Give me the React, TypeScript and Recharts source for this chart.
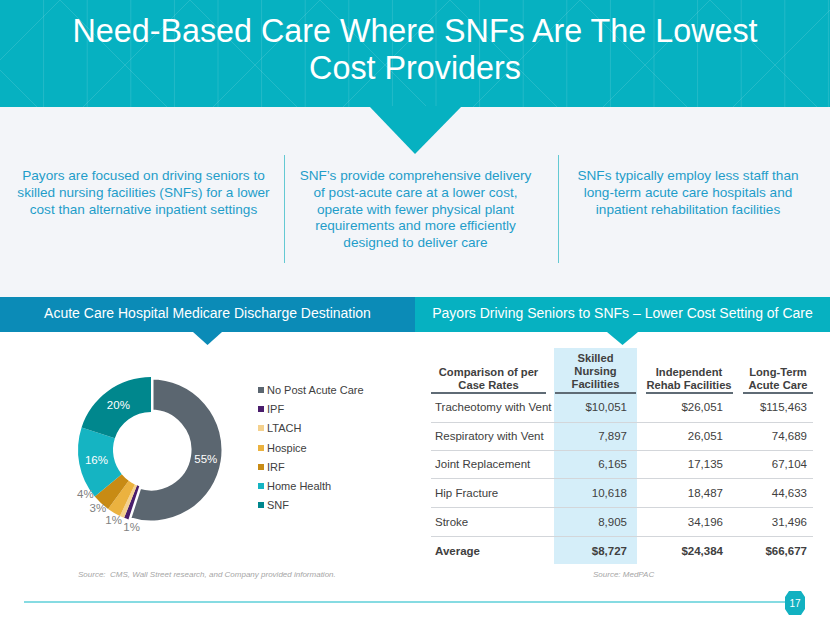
import React from 'react';
import { PieChart, Pie, Cell, Legend } from 'recharts';

// discharge destination share (%), clockwise from 12 o'clock
const destinations = ['No Post Acute Care', 'IPF', 'LTACH', 'Hospice', 'IRF', 'Home Health', 'SNF'];
const shares = [55, 1, 1, 3, 4, 16, 20];
const sliceColors = ['#5b6670', '#4a1d6c', '#f4d18e', '#ebb23f', '#c88b14', '#15b4c2', '#00878d'];

// case rate table
const caseTypes = ['Tracheotomy with Vent', 'Respiratory with Vent', 'Joint Replacement', 'Hip Fracture', 'Stroke', 'Average'];
const snfRates = ['$10,051', '7,897', '6,165', '10,618', '8,905', '$8,727'];
const rehabRates = ['$26,051', '26,051', '17,135', '18,487', '34,196', '$24,384'];
const ltacRates = ['$115,463', '74,689', '67,104', '44,633', '31,496', '$66,677'];

// blurb lines, as wrapped on the slide
const blurb1 = ['Payors are focused on driving seniors to', 'skilled nursing facilities (SNFs) for a lower', 'cost than alternative inpatient settings'];
const blurb2 = [
  'SNF’s provide comprehensive delivery',
  'of post-acute care at a lower cost,',
  'operate with fewer physical plant',
  'requirements and more efficiently',
  'designed to deliver care',
];
const blurb3 = ['SNFs typically employ less staff than', 'long-term acute care hospitals and', 'inpatient rehabilitation facilities'];

const FONT = '"Liberation Sans", Arial, Helvetica, sans-serif';
const RAD = Math.PI / 180;

const pieData = destinations.map((name, i) => ({ name, value: shares[i] }));

// spread the small outside labels apart (clockwise degrees from top)
const total = shares.reduce((a, b) => a + b, 0);
const mids: number[] = [];
{
  let acc = 0;
  shares.forEach((v) => {
    mids.push(((acc + v / 2) / total) * 360);
    acc += v;
  });
}
const smallIdx = shares.map((v, i) => (v < 10 ? i : -1)).filter((i) => i >= 0);
const smallMean = smallIdx.reduce((a, i) => a + mids[i], 0) / smallIdx.length;
const labelAngle: Record<number, number> = {};
smallIdx.forEach((idx, k) => {
  labelAngle[idx] = smallMean + 6 + (k - (smallIdx.length - 1) / 2) * 14;
});

const renderLabel = (props: any) => {
  const { cx, cy, innerRadius, outerRadius, index } = props;
  const v = shares[index];
  const inside = v >= 10;
  const theta = inside ? mids[index] : labelAngle[index];
  const r = inside ? (innerRadius + outerRadius) / 2 : outerRadius + 6;
  const x = cx + r * Math.sin(theta * RAD);
  const y = cy - r * Math.cos(theta * RAD);
  return (
    <text
      x={x}
      y={y}
      fill={inside ? '#ffffff' : '#7f7f7f'}
      textAnchor="middle"
      dominantBaseline="central"
      fontSize={11.5}
      fontFamily={FONT}
    >
      {v}%
    </text>
  );
};

const renderLegend = () => (
  <div style={{ fontFamily: FONT, fontSize: 11, color: '#404040' }}>
    {destinations.map((d, i) => (
      <div key={d} style={{ height: 19.3, display: 'flex', alignItems: 'center' }}>
        <span style={{ width: 6, height: 6, background: sliceColors[i], marginRight: 3, display: 'inline-block' }} />
        {d}
      </div>
    ))}
  </div>
);

const HeaderPattern = () => {
  const lines: React.ReactNode[] = [];
  for (let x = 43.6; x < 830; x += 43.6) {
    lines.push(<line key={'v' + x} x1={x} y1={0} x2={x} y2={107} />);
  }
  for (let x = -200; x < 1030; x += 130) {
    lines.push(<line key={'a' + x} x1={x} y1={0} x2={x + 130} y2={130} />);
    lines.push(<line key={'b' + x} x1={x} y1={0} x2={x - 130} y2={130} />);
  }
  return (
    <svg width={830} height={107} style={{ position: 'absolute', left: 0, top: 0 }}>
      <g stroke="#ffffff" strokeOpacity={0.12} strokeWidth={1}>
        {lines}
      </g>
    </svg>
  );
};

const abs = (s: React.CSSProperties): React.CSSProperties => ({ position: 'absolute', ...s });

const Lines = ({ lines }: { lines: string[] }) => (
  <>
    {lines.map((l, i) => (
      <div key={i}>{l}</div>
    ))}
  </>
);

export default function App() {
  const rowY = [407, 436, 464, 493, 522, 551];
  const sepY = [422, 450, 478, 507, 536];
  const blurbStyle: React.CSSProperties = {
    position: 'absolute',
    top: 168,
    width: 300,
    textAlign: 'center',
    fontSize: 13.6,
    lineHeight: '16.8px',
    color: '#1f9dc9',
    fontFamily: FONT,
    whiteSpace: 'nowrap',
  };
  return (
    <div style={abs({ left: 0, top: 0, width: 830, height: 623, background: '#ffffff', overflow: 'hidden', fontFamily: FONT })}>
      {/* title band */}
      <div style={abs({ left: 0, top: 0, width: 830, height: 107, background: '#06b1c1' })} />
      <HeaderPattern />
      <div style={abs({ left: 0, top: 107, width: 830, height: 190, background: '#f3f5f9' })} />
      <svg width={830} height={160} style={{ position: 'absolute', left: 0, top: 0 }}>
        <polygon points="369,106 462,106 415,154" fill="#06b1c1" />
      </svg>
      <div
        style={abs({
          left: 0,
          top: 13,
          width: 830,
          textAlign: 'center',
          color: '#ffffff',
          fontSize: 32.3,
          lineHeight: '37px',
        })}
      >
        Need-Based Care Where SNFs Are The Lowest
        <br />
        Cost Providers
      </div>

      {/* blurbs */}
      <div style={{ ...blurbStyle, left: 143.5 - 150 }}>
        <Lines lines={blurb1} />
      </div>
      <div style={abs({ left: 284, top: 155, width: 1, height: 108, background: '#63c9d3' })} />
      <div style={{ ...blurbStyle, left: 415.5 - 150 }}>
        <Lines lines={blurb2} />
      </div>
      <div style={abs({ left: 558, top: 155, width: 1, height: 108, background: '#63c9d3' })} />
      <div style={{ ...blurbStyle, left: 688 - 150 }}>
        <Lines lines={blurb3} />
      </div>

      {/* section bars */}
      <svg width={830} height={60} style={{ position: 'absolute', left: 0, top: 290 }}>
        <rect x={0} y={7} width={415} height={35} fill="#0b8bb7" />
        <polygon points="193,42 222,42 207.5,55" fill="#0b8bb7" />
        <rect x={415} y={7} width={415} height={35} fill="#06b1c1" />
        <polygon points="607,42 638,42 622.5,55" fill="#06b1c1" />
      </svg>
      <div style={abs({ left: 0, top: 305, width: 415, textAlign: 'center', color: '#ffffff', fontSize: 14 })}>
        Acute Care Hospital Medicare Discharge Destination
      </div>
      <div style={abs({ left: 415, top: 305, width: 415, textAlign: 'center', color: '#ffffff', fontSize: 14 })}>
        Payors Driving Seniors to SNFs – Lower Cost Setting of Care
      </div>

      {/* donut */}
      <div style={abs({ left: 0, top: 340, width: 410, height: 220 })}>
        <PieChart width={410} height={220} margin={{ top: 0, right: 0, bottom: 0, left: 0 }}>
          <Pie
            data={pieData}
            dataKey="value"
            nameKey="name"
            cx={151}
            cy={110}
            innerRadius={38}
            outerRadius={73}
            startAngle={90}
            endAngle={-270}
            label={renderLabel}
            labelLine={false}
            isAnimationActive={false}
          >
            {pieData.map((d, i) => (
              <Cell
                key={d.name}
                fill={sliceColors[i]}
                stroke={i === 0 ? '#ffffff' : 'none'}
                strokeWidth={i === 0 ? 5 : 0}
              />
            ))}
          </Pie>
          <Legend
            content={renderLegend}
            wrapperStyle={{ position: 'absolute', left: 258, top: 40, width: 140 }}
          />
        </PieChart>
      </div>
      <div style={abs({ left: 78, top: 570, fontSize: 8, fontStyle: 'italic', color: '#a6a6a6' })}>
        Source:&nbsp; CMS, Wall Street research, and Company provided information.
      </div>

      {/* table */}
      <div style={abs({ left: 554, top: 348, width: 83, height: 216, background: '#d5eef9' })} />
      <div style={abs({ left: 431, top: 366, width: 115, textAlign: 'center', fontWeight: 'bold', fontSize: 11.2, lineHeight: '12.8px', color: '#404040' })}>
        Comparison of per
        <br />
        Case Rates
      </div>
      <div style={abs({ left: 554, top: 352, width: 83, textAlign: 'center', fontWeight: 'bold', fontSize: 11.2, lineHeight: '12.8px', color: '#404040' })}>
        Skilled
        <br />
        Nursing
        <br />
        Facilities
      </div>
      <div style={abs({ left: 641, top: 366, width: 96, textAlign: 'center', fontWeight: 'bold', fontSize: 11.2, lineHeight: '12.8px', color: '#404040' })}>
        Independent
        <br />
        Rehab Facilities
      </div>
      <div style={abs({ left: 741, top: 366, width: 74, textAlign: 'center', fontWeight: 'bold', fontSize: 11.2, lineHeight: '12.8px', color: '#404040' })}>
        Long-Term
        <br />
        Acute Care
      </div>
      {[
        [431, 546],
        [555, 636],
        [646, 733],
        [743, 813],
      ].map(([a, b]) => (
        <div key={a} style={abs({ left: a, top: 392, width: b - a, height: 2, background: '#5f6b75' })} />
      ))}
      {sepY.map((y) => (
        <div key={y} style={abs({ left: 431, top: y - 0.5, width: 382, height: 1.5, background: '#d3d6da' })} />
      ))}
      {caseTypes.map((c, i) => {
        const bold = i === caseTypes.length - 1;
        const cell: React.CSSProperties = {
          position: 'absolute',
          top: rowY[i] - 7,
          fontSize: 11.5,
          lineHeight: '14px',
          color: '#404040',
          fontWeight: bold ? 'bold' : 'normal',
          whiteSpace: 'nowrap',
        };
        return (
          <React.Fragment key={c}>
            <div style={{ ...cell, left: 435 }}>{c}</div>
            <div style={{ ...cell, left: 527, width: 100, textAlign: 'right' }}>{snfRates[i]}</div>
            <div style={{ ...cell, left: 623, width: 100, textAlign: 'right' }}>{rehabRates[i]}</div>
            <div style={{ ...cell, left: 707, width: 100, textAlign: 'right' }}>{ltacRates[i]}</div>
          </React.Fragment>
        );
      })}
      <div style={abs({ left: 593, top: 570, fontSize: 8, fontStyle: 'italic', color: '#a6a6a6' })}>Source: MedPAC</div>

      {/* footer */}
      <div style={abs({ left: 24, top: 601, width: 764, height: 2, background: '#86dbe2' })} />
      <svg width={24} height={26} style={{ position: 'absolute', left: 783, top: 590 }}>
        <polygon points="6,1 18,1 22,7 22,19 18,25 6,25 2,19 2,7" fill="#12b1c1" />
        <text x={12} y={13.5} textAnchor="middle" dominantBaseline="central" fill="#ffffff" fontSize={10} fontFamily={FONT}>
          17
        </text>
      </svg>
    </div>
  );
}
